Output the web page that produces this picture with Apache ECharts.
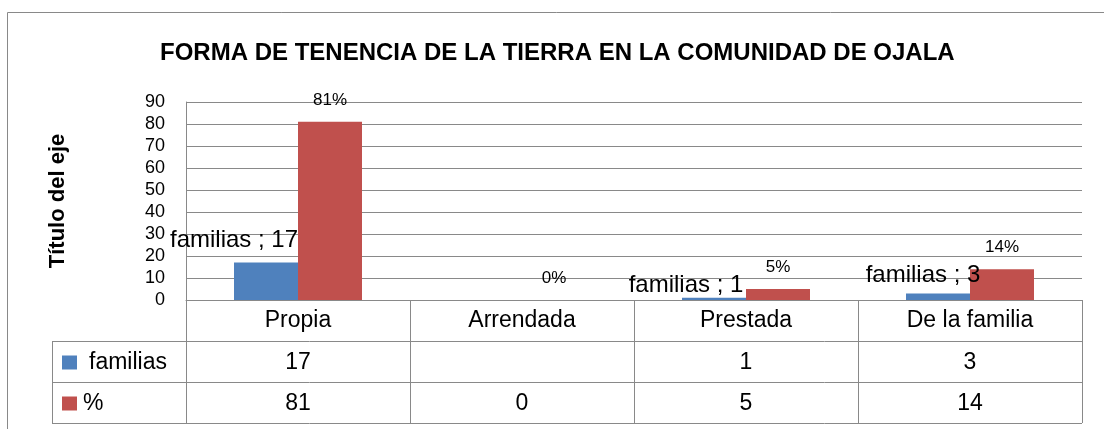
<!DOCTYPE html>
<html><head><meta charset="utf-8">
<script src="https://cdn.jsdelivr.net/npm/echarts@6/dist/echarts.min.js"></script>
<style>html,body{margin:0;padding:0;background:#fff}#c{width:1104px;height:429px}</style>
</head><body><div id="c"></div>
<script>
// ---- data ----
const categories = ['Propia', 'Arrendada', 'Prestada', 'De la familia'];
const familias = [17, null, 1, 3];
const porcentaje = [81, 0, 5, 14];
const seriesNames = ['familias', '%'];
const yMin = 0, yMax = 90, yInterval = 10;
const titleText = 'FORMA DE TENENCIA DE LA TIERRA EN LA COMUNIDAD DE OJALA';
const yAxisTitle = 'Título del eje';

// ---- styling / layout (not data) ----
const familiasLabelOffsets = [[-32, -10], [0, 0], [-28, 0], [-15, -6]];
const FONT = '"Liberation Sans", Arial, sans-serif';
const BLUE = '#4F81BD', RED = '#C0504D', LINE = '#898989';
const ROW_H = 41;

const chart = echarts.init(document.getElementById('c'), null, {renderer: 'canvas'});

const option = {
  animation: false,
  title: {
    text: titleText, left: 160, top: 41, padding: 0,
    textStyle: {fontFamily: FONT, fontSize: 24, fontWeight: 'bold', color: '#000'}
  },
  grid: {left: 186, right: 22, top: 102, bottom: 129, containLabel: false},
  xAxis: {
    type: 'category', data: categories,
    axisLine: {show: true, lineStyle: {color: LINE, width: 1}},
    axisTick: {show: true, interval: 0, length: ROW_H * 3, lineStyle: {color: LINE, width: 1}},
    axisLabel: {interval: 0, margin: 9, fontFamily: FONT, fontSize: 23, color: '#000'},
    splitLine: {show: false}
  },
  yAxis: {
    type: 'value', min: yMin, max: yMax, interval: yInterval,
    name: yAxisTitle, nameLocation: 'middle', nameRotate: 90, nameGap: 117,
    nameTextStyle: {fontFamily: FONT, fontSize: 22, fontWeight: 'bold', color: '#000'},
    axisLine: {show: true, lineStyle: {color: LINE, width: 1}},
    axisTick: {show: false},
    axisLabel: {margin: 21, fontFamily: FONT, fontSize: 18, color: '#000'},
    splitLine: {show: true, lineStyle: {color: LINE, width: 1}}
  },
  series: [
    {
      name: seriesNames[0], type: 'bar', barWidth: 64, barGap: '0%',
      itemStyle: {color: BLUE},
      data: familias.map((v, i) => ({
        value: v,
        label: {offset: familiasLabelOffsets[i]}
      })),
      label: {
        show: true, position: 'top', distance: 0,
        fontFamily: FONT, fontSize: 24, color: '#000',
        formatter: p => p.seriesName + ' ; ' + p.value
      }
    },
    {
      name: seriesNames[1], type: 'bar', barWidth: 64, barGap: '0%',
      itemStyle: {color: RED},
      data: porcentaje,
      label: {
        show: true, position: 'top', distance: 13,
        fontFamily: FONT, fontSize: 17, color: '#000',
        formatter: p => p.value + '%'
      }
    }
  ]
};
chart.setOption(option);

// ---- data table below the plot, placed with the chart's own scales ----
function buildTable() {
  const c0 = chart.convertToPixel({xAxisIndex: 0}, categories[0]);
  const c1 = chart.convertToPixel({xAxisIndex: 0}, categories[1]);
  const band = c1 - c0;
  const xRight = chart.convertToPixel({xAxisIndex: 0}, categories[categories.length - 1]) + band / 2;
  const yAxis0 = chart.convertToPixel({yAxisIndex: 0}, yMin);
  const legendLeft = 52;
  const rows = [familias, porcentaje];
  const colors = [BLUE, RED];
  const textLeft = [89, 83];
  const g = [];
  // outer chart border
  g.push({type: 'rect', shape: {x: 7.5, y: 12.5, width: 1110, height: 430},
    style: {fill: null, stroke: LINE, lineWidth: 1}, silent: true});
  for (let r = 1; r <= 3; r++) {
    const y = Math.round(yAxis0 + r * ROW_H) + 0.5;
    g.push({type: 'line', shape: {x1: legendLeft, y1: y, x2: xRight, y2: y},
      style: {stroke: LINE, lineWidth: 1}, silent: true});
  }
  g.push({type: 'line', shape: {x1: legendLeft + 0.5, y1: yAxis0 + ROW_H, x2: legendLeft + 0.5, y2: yAxis0 + 3 * ROW_H},
    style: {stroke: LINE, lineWidth: 1}, silent: true});
  rows.forEach((vals, r) => {
    const yc = yAxis0 + ROW_H * (r + 1) + ROW_H / 2;
    g.push({type: 'rect', shape: {x: 62, y: yc - 6, width: 15, height: 14},
      style: {fill: colors[r]}, silent: true});
    g.push({type: 'text', x: textLeft[r], y: yc + 1,
      style: {text: seriesNames[r], font: '23px ' + FONT, fill: '#000', textVerticalAlign: 'middle', textAlign: 'left'}, silent: true});
    vals.forEach((v, i) => {
      if (v === null || v === undefined) return;
      const xc = chart.convertToPixel({xAxisIndex: 0}, categories[i]);
      g.push({type: 'text', x: xc, y: yc + 1,
        style: {text: String(v), font: '23px ' + FONT, fill: '#000', textAlign: 'center', textVerticalAlign: 'middle'}, silent: true});
    });
  });
  chart.setOption({graphic: g});
}
buildTable();
</script>
</body></html>
